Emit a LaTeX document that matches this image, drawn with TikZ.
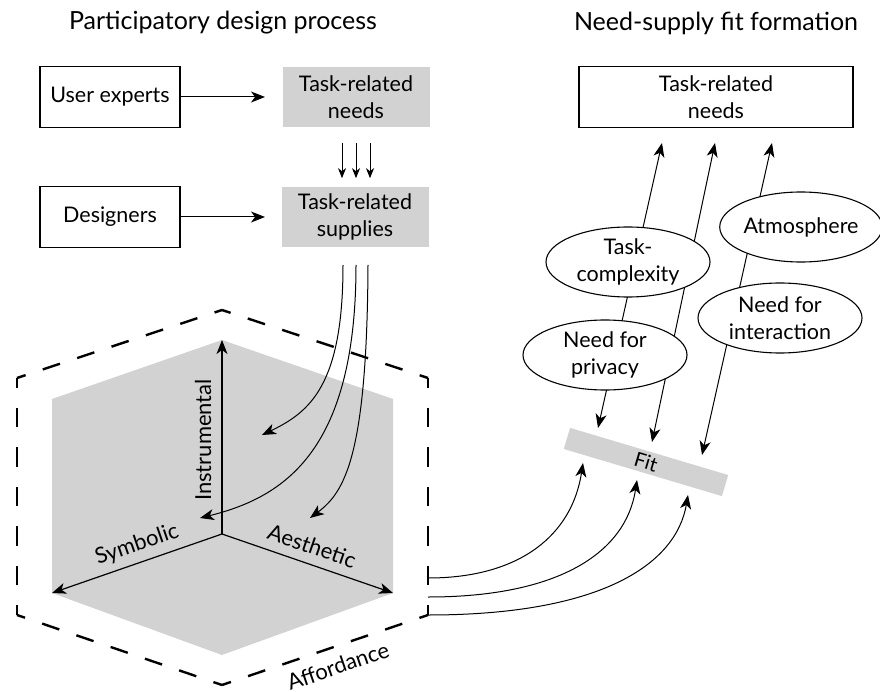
\documentclass[tikz,border=0pt]{standalone}
\usepackage{fontspec}
\setmainfont{Lato}
\usetikzlibrary{arrows.meta,shapes.geometric,calc}

\definecolor{panel}{RGB}{210,210,210}

\begin{document}
\begin{tikzpicture}[x=1pt,y=-1pt,
  every node/.style={font=\fontsize{21.5}{27}\selectfont, align=center, inner sep=0pt},
  title/.style={font=\fontsize{25}{30}\selectfont},
  plainbox/.style={draw, line width=1.2pt, minimum height=61pt},
  graybox/.style={fill=panel, minimum width=147pt, minimum height=60pt},
  oval/.style={ellipse, draw, fill=white, line width=1.1pt, minimum width=164pt, minimum height=70pt},
  axislabel/.style={font=\fontsize{22}{26}\selectfont},
  bigtip/.tip={Stealth[length=14pt, width=11pt, inset=4pt]},
  smalltip/.tip={Stealth[length=10pt, width=8pt, inset=3pt]},
  arr/.style={line width=1pt, -{bigtip}},
  twoway/.style={line width=1pt, {bigtip}-{bigtip}},
  hexside/.style={line width=2.4pt, dash pattern=on #1 off #1, dash phase=0.5*#1},
]
\useasboundingbox (0,0) rectangle (880,692);

% ---------- headings ----------
\node[title] (t1) at (223,23) {Participatory design process};
\node[title] (t2) at (716,23) {Need-supply fit formation};

% ---------- participatory design process ----------
\node[plainbox, minimum width=140pt] (ue) at (110,97) {User experts};
\node[plainbox, minimum width=140pt] (des) at (110,217) {Designers};
\node[graybox] (need) at (356,97) {Task-related\\needs};
\node[graybox] (sup) at (355,217) {Task-related\\supplies};

\coordinate (ueT) at (265,97);
\coordinate (desT) at (265,217);
\draw[arr] (ue.east) -- (ueT);
\draw[arr] (des.east) -- (desT);

\foreach \dx in {-14,0,14}{
  \draw[line width=1pt, -{smalltip}] ($(need.south)+(\dx,16)$) -- ($(need.south)+(\dx,51)$);
}

% ---------- affordance cube ----------
\coordinate (hT)  at (222,310);
\coordinate (hTR) at (428,378);
\coordinate (hBR) at (428,615);
\coordinate (hB)  at (222,685);
\coordinate (hBL) at (17,615);
\coordinate (hTL) at (17,378);

\coordinate (cT)  at (222,340);
\coordinate (cTR) at (393,399);
\coordinate (cBR) at (393,593);
\coordinate (cB)  at (222,655);
\coordinate (cBL) at (52,593);
\coordinate (cTL) at (52,399);
\coordinate (cO)  at (222,534);

\fill[panel] (cT) -- (cTR) -- (cBR) -- (cB) -- (cBL) -- (cTL) -- cycle;

\draw[hexside=18.1pt] (hT) -- (hTR);
\draw[hexside=19.75pt] (hTR) -- (hBR);
\draw[hexside=18.1pt] (hBR) -- (hB);
\draw[hexside=18.1pt] (hB) -- (hBL);
\draw[hexside=19.75pt] (hBL) -- (hTL);
\draw[hexside=18.1pt] (hTL) -- (hT);

\draw[line width=1.2pt, -{bigtip}] (cO) -- (cT);
\draw[line width=1.2pt, -{bigtip}] (cO) -- (cBL);
\draw[line width=1.2pt, -{bigtip}] (cO) -- (cBR);

\node[axislabel, rotate=90] (lInst) at (203,440) {Instrumental};
\node[axislabel, rotate=19] (lSym) at (137,545) {Symbolic};
\node[axislabel, rotate=-19] (lAes) at (312,546) {Aesthetic};
\node[axislabel, rotate=19] (lAff) at (338,666) {Affordance};

% supplies flowing into the cube
\coordinate (s1) at (343,265);
\coordinate (s2) at (356,265);
\coordinate (s3) at (368,265);
\coordinate (e1) at (262,435);
\coordinate (e2) at (200,518);
\coordinate (e3) at (310,518);
\draw[arr] (s1) .. controls (343,385) and (310,412) .. (e1);
\draw[arr] (s2) .. controls (356,450) and (285,497) .. (e2);
\draw[arr] (s3) .. controls (367,455) and (345,492) .. (e3);

% ---------- need-supply fit formation ----------
\node[plainbox, minimum width=274pt] (rneed) at (716,97) {Task-related\\needs};

\node[fill=panel, rotate=-16.6, minimum width=165pt, minimum height=22pt,
      font=\fontsize{20}{24}\selectfont] (fit) at (646,462) {Fit};

\coordinate (a1) at (598,428);
\coordinate (b1) at (662,143);
\coordinate (a2) at (652,442);
\coordinate (b2) at (715,143);
\coordinate (a3) at (702,455);
\coordinate (b3) at (772,143);
\draw[twoway] (a1) -- (b1);
\draw[twoway] (a2) -- (b2);
\draw[twoway] (a3) -- (b3);

\node[oval] (tc) at (628,262) {Task-\\complexity};
\node[oval, minimum width=158pt] (atm) at (801,227) {Atmosphere};
\node[oval] (nfi) at (780,318) {Need for\\interaction};
\node[oval] (nfp) at (605,355) {Need for\\privacy};

% affordance curves into the fit
\coordinate (f1) at (428,578);
\coordinate (f2) at (428,597);
\coordinate (f3) at (428,615);
\coordinate (g1) at (583,463);
\coordinate (g2) at (637,480);
\coordinate (g3) at (688,495);
\draw[arr] (f1) .. controls (520,578) and (572,535) .. (g1);
\draw[arr] (f2) .. controls (560,597) and (626,552) .. (g2);
\draw[arr] (f3) .. controls (600,615) and (676,565) .. (g3);
\end{tikzpicture}
\end{document}
